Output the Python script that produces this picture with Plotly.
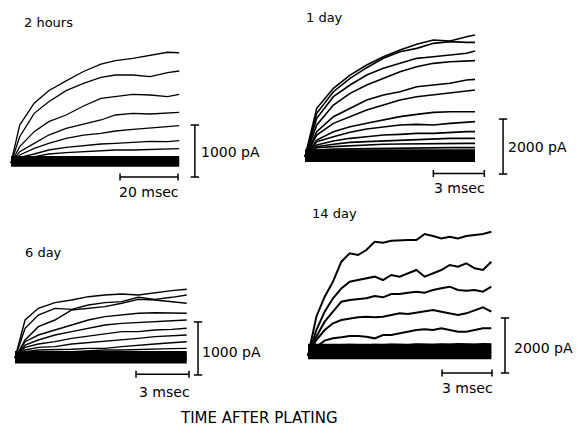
import plotly.graph_objects as go

W, H = 578, 427

# ---------------- data (time in ms, current in pA) ----------------
# 2 hours
t_2h = [0, 3, 8, 13, 19, 25, 31, 36, 42, 48, 54, 58]
traces_2h = [
    [0, 730, 1150, 1390, 1580, 1760, 1900, 1970, 2010, 2070, 2130, 2120],
    [0, 506, 955, 1179, 1391, 1532, 1647, 1692, 1692, 1660, 1737, 1769],
    [0, 314, 603, 795, 923, 1096, 1244, 1276, 1320, 1308, 1276, 1320],
    [0, 218, 378, 538, 667, 750, 827, 923, 955, 942, 968, 974],
    [0, 154, 282, 378, 474, 538, 570, 615, 647, 680, 699, 718],
    [0, 109, 173, 250, 301, 340, 365, 378, 391, 417, 410, 429],
    [0, 71, 122, 173, 199, 218, 237, 250, 250, 263, 269, 276],
]
band_2h = [-30, 30, 90]

# 1 day
t_1d = [0, 0.69, 1.67, 2.65, 3.63, 4.61, 5.59, 6.57, 7.55, 8.53, 9.51, 10.0]
traces_1d = [
    [0, 1770, 2500, 2980, 3345, 3648, 3890, 4097, 4254, 4218, 4375, 4436],
    [0, 1588, 2375, 2860, 3248, 3588, 3830, 3951, 4133, 4194, 4170, 4170],
    [0, 1406, 2194, 2618, 2982, 3224, 3406, 3588, 3648, 3709, 3770, 3854],
    [0, 1164, 1890, 2315, 2618, 2860, 3103, 3285, 3406, 3466, 3503, 3503],
    [0, 921, 1467, 1770, 2073, 2254, 2375, 2557, 2618, 2679, 2800, 2824],
    [0, 800, 1224, 1467, 1709, 1891, 2073, 2194, 2254, 2315, 2400, 2436],
    [0, 618, 921, 1103, 1224, 1345, 1467, 1551, 1624, 1648, 1648, 1648],
    [0, 558, 739, 897, 1018, 1103, 1164, 1188, 1164, 1224, 1260, 1285],
    [0, 436, 582, 679, 739, 800, 824, 860, 860, 897, 921, 921],
    [0, 376, 461, 533, 558, 582, 618, 618, 655, 679, 679, 679],
    [0, 339, 376, 412, 436, 461, 473, 485, 497, 497, 497, 497],
    [0, 250, 290, 300, 310, 320, 330, 330, 340, 340, 340, 340],
]
band_1d = [-100, 0, 100, 200]

# 6 day
t_6d = [0, 0.57, 1.32, 2.26, 3.21, 4.15, 5.09, 6.04, 6.98, 7.92, 8.87, 9.72]
traces_6d = [
    [0, 717, 937, 1044, 1094, 1157, 1189, 1208, 1189, 1233, 1271, 1296],
    [0, 560, 811, 937, 918, 1000, 1044, 1063, 1145, 1107, 1145, 1189],
    [0, 340, 591, 717, 906, 937, 969, 1032, 1107, 1094, 1063, 1032],
    [0, 308, 434, 528, 623, 717, 780, 811, 843, 855, 843, 843],
    [0, 245, 340, 434, 497, 560, 623, 654, 667, 686, 704, 717],
    [0, 201, 264, 308, 371, 415, 465, 497, 497, 528, 541, 560],
    [0, 151, 201, 214, 264, 289, 308, 340, 371, 403, 421, 434],
    [0, 120, 151, 151, 164, 182, 182, 214, 245, 264, 289, 308],
    [0, 88, 100, 120, 120, 138, 151, 151, 164, 164, 176, 182],
]
band_6d = [-60, -10, 40, 90]

# 14 day
t_14d = [0, 0.5, 1.0, 1.5, 2.0, 2.5, 3.0, 3.5, 4.0, 4.5, 5.0, 5.5,
         6.0, 6.5, 7.0, 7.5, 8.0, 8.5, 9.0, 9.5, 10.0, 10.5, 11.0]
traces_14d = [
    [0, 1430, 2157, 2703, 3430, 3733, 3672, 3854, 4157, 4121, 4194, 4218,
     4218, 4218, 4436, 4363, 4278, 4339, 4278, 4363, 4400, 4436, 4521],
    [0, 945, 1612, 2097, 2460, 2703, 2763, 2824, 2885, 2763, 2945, 2885,
     3006, 3127, 2885, 3006, 3127, 3309, 3248, 3370, 3188, 3127, 3430],
    [0, 703, 1248, 1612, 1976, 2036, 2060, 2097, 2182, 2133, 2254, 2254,
     2303, 2339, 2303, 2400, 2460, 2521, 2400, 2376, 2400, 2339, 2521],
    [0, 582, 945, 1188, 1309, 1370, 1406, 1430, 1406, 1430, 1491, 1551,
     1527, 1576, 1612, 1673, 1612, 1551, 1491, 1551, 1673, 1770, 1612],
    [0, 339, 558, 642, 679, 727, 727, 703, 642, 764, 764, 824,
     885, 945, 970, 945, 1006, 945, 885, 885, 945, 1006, 1006],
    [0, 300, 380, 400, 400, 410, 400, 390, 410, 400, 420, 410,
     400, 430, 420, 410, 430, 420, 440, 430, 420, 440, 430],
]
band_14d = [-40, 60, 160, 260, 360]

# scale bars: (time length ms, current pA)
scale_2h = (20, 1000)
scale_1d = (3, 2000)
scale_6d = (3, 1000)
scale_14d = (3, 2000)

titles = ["2 hours", "1 day", "6 day", "14 day"]
xlabel_text = "TIME AFTER PLATING"

# ---------------- layout geometry (pixels) ----------------
panels = [
    dict(t=t_2h, tr=traces_2h, band=band_2h, sc=scale_2h, title=titles[0],
         ox=11, oy=163, ppms=58 / 20, pppa=52 / 1000, box=(0, 40, 200, 185),
         vbar_t=63.4, vbar_lo=-270, hbar_t0=37.6, hbar_y=-270, lw=1.3,
         title_xy=(22, 22), vlab_xy=(199, 152), hlab_xy=(149, 192)),
    dict(t=t_1d, tr=traces_1d, band=band_1d, sc=scale_1d, title=titles[1],
         ox=305, oy=157, ppms=17, pppa=55 / 2000, box=(295, 25, 510, 185),
         vbar_t=11.65, vbar_lo=-620, hbar_t0=7.55, hbar_y=-600, lw=1.6,
         title_xy=(304, 17), vlab_xy=(506, 147), hlab_xy=(459, 188)),
    dict(t=t_6d, tr=traces_6d, band=band_6d, sc=scale_6d, title=titles[2],
         ox=15, oy=358, ppms=53 / 3, pppa=53 / 1000, box=(0, 270, 205, 385),
         vbar_t=10.36, vbar_lo=-320, hbar_t0=6.85, hbar_y=-305, lw=1.4,
         title_xy=(23, 252), vlab_xy=(200, 352), hlab_xy=(164, 392)),
    dict(t=t_14d, tr=traces_14d, band=band_14d, sc=scale_14d, title=titles[3],
         ox=308, oy=356, ppms=50 / 3, pppa=55 / 2000, box=(295, 220, 510, 385),
         vbar_t=11.82, vbar_lo=-618, hbar_t0=8.04, hbar_y=-618, lw=2.0,
         title_xy=(310, 213), vlab_xy=(512, 348), hlab_xy=(467, 388)),
]

FONT = "DejaVu Sans"
fig = go.Figure()
layout_axes = {}
annotations = []

for i, p in enumerate(panels):
    n = "" if i == 0 else str(i + 1)
    xa, ya = "x" + n, "y" + n
    left, top, right, bottom = p["box"]
    xr = [(left - p["ox"]) / p["ppms"], (right - p["ox"]) / p["ppms"]]
    yr = [(p["oy"] - bottom) / p["pppa"], (p["oy"] - top) / p["pppa"]]
    layout_axes["xaxis" + n] = dict(domain=[left / W, right / W], range=xr, visible=False,
                                    anchor=ya, fixedrange=True)
    layout_axes["yaxis" + n] = dict(domain=[1 - bottom / H, 1 - top / H], range=yr,
                                    visible=False, anchor=xa, fixedrange=True)
    # baseline band of small overlapping traces
    for b in p["band"]:
        fig.add_trace(go.Scatter(x=[p["t"][0], p["t"][-1]], y=[b, b], mode="lines",
                                 line=dict(color="black", width=4.5), xaxis=xa, yaxis=ya,
                                 hoverinfo="skip", showlegend=False))
    # current traces
    for tr in p["tr"]:
        fig.add_trace(go.Scatter(x=p["t"], y=tr, mode="lines",
                                 line=dict(color="black", width=p["lw"]), xaxis=xa, yaxis=ya,
                                 hoverinfo="skip", showlegend=False))
    tlen, alen = p["sc"]
    # vertical scale bar
    fig.add_trace(go.Scatter(x=[p["vbar_t"], p["vbar_t"]], y=[p["vbar_lo"], p["vbar_lo"] + alen],
                             mode="lines+markers", line=dict(color="black", width=1.5),
                             marker=dict(symbol="line-ew", size=6, line=dict(width=1.5, color="black")),
                             xaxis=xa, yaxis=ya, hoverinfo="skip", showlegend=False))
    # horizontal scale bar
    fig.add_trace(go.Scatter(x=[p["hbar_t0"], p["hbar_t0"] + tlen], y=[p["hbar_y"], p["hbar_y"]],
                             mode="lines+markers", line=dict(color="black", width=1.5),
                             marker=dict(symbol="line-ns", size=5, line=dict(width=1.5, color="black")),
                             xaxis=xa, yaxis=ya, hoverinfo="skip", showlegend=False))
    tx, ty = p["title_xy"]
    annotations.append(dict(text=p["title"], x=tx / W, y=1 - ty / H, xref="paper", yref="paper",
                            xanchor="left", yanchor="middle", showarrow=False,
                            font=dict(family=FONT, size=13, color="black")))
    vx, vy = p["vlab_xy"]
    annotations.append(dict(text=f"{alen} pA", x=vx / W, y=1 - vy / H, xref="paper", yref="paper",
                            xanchor="left", yanchor="middle", showarrow=False,
                            font=dict(family=FONT, size=14, color="black")))
    hx, hy = p["hlab_xy"]
    annotations.append(dict(text=f"{tlen} msec", x=hx / W, y=1 - hy / H, xref="paper", yref="paper",
                            xanchor="center", yanchor="middle", showarrow=False,
                            font=dict(family=FONT, size=14, color="black")))

annotations.append(dict(text=xlabel_text, x=259 / W, y=1 - 418 / H, xref="paper", yref="paper",
                        xanchor="center", yanchor="middle", showarrow=False,
                        font=dict(family=FONT, size=15, color="black")))

fig.update_layout(width=W, height=H, margin=dict(l=0, r=0, t=0, b=0),
                  paper_bgcolor="white", plot_bgcolor="white",
                  annotations=annotations, **layout_axes)

fig.write_html("out.html", config={"displayModeBar": False},
               post_script="document.body.style.margin='0';document.body.style.overflow='hidden';")
